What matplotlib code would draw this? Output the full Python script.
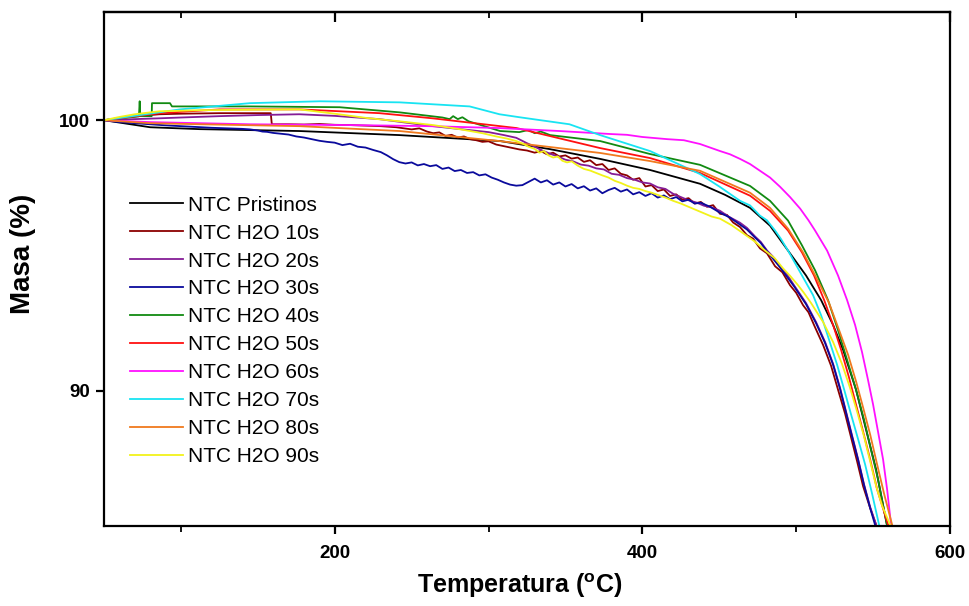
import numpy as np
import matplotlib
matplotlib.use('Agg')
import matplotlib.pyplot as plt
from matplotlib.ticker import MultipleLocator

plt.rcParams['font.family'] = ['Liberation Sans', 'DejaVu Sans']
plt.rcParams['mathtext.fontset'] = 'custom'
plt.rcParams['mathtext.rm'] = 'Liberation Sans'
plt.rcParams['mathtext.bf'] = 'Liberation Sans:bold'

# TGA curves: temperature (C) and remaining mass (%)
t_pristinos = [50, 80, 112, 177, 242, 307.5, 340, 372.5, 405, 437.5, 453.8, 470, 483, 494.7, 506.4, 516.2, 524, 530.5,
               538.9, 545.4, 551.9, 559, 560]
m_pristinos = [100.0, 99.74, 99.67, 99.60, 99.45, 99.23, 98.93, 98.57, 98.16, 97.65, 97.24, 96.76, 96.10, 95.18, 94.26,
               93.35, 92.43, 91.51, 90.04, 88.57, 87.10, 85.04, 84.7]

t_10s = [50, 60, 70, 80, 86, 100, 112, 125, 140, 158.4, 159.1, 170, 180, 190, 200, 210, 220, 230, 240, 250, 255, 260, 264,
         268, 272, 276, 280, 284, 288, 292, 296, 300, 305, 310, 315, 320, 325, 330, 334, 338, 342, 346, 350, 354, 358, 362,
         366, 370, 374, 378, 382, 386, 390, 394, 398, 402, 406, 410, 414, 418, 422, 426, 430, 434, 438, 442, 446, 450.5, 455,
         459, 463.5, 468, 472, 476.5, 481, 486.3, 491, 496, 500, 504.5, 508, 511.6, 517.5, 522.7, 527.2, 531.8, 535.7,
         539.6, 543.5, 548.1, 552, 553.5]
m_10s = [100.0, 100.08, 100.14, 100.19, 100.22, 100.24, 100.25, 100.26, 100.26, 100.26, 99.85, 99.85, 99.84, 99.86, 99.83,
         99.82, 99.80, 99.78, 99.74, 99.66, 99.70, 99.58, 99.52, 99.55, 99.42, 99.46, 99.36, 99.40, 99.30, 99.26, 99.20,
         99.22, 99.10, 99.04, 98.98, 98.92, 98.88, 98.80, 98.86, 98.74, 98.80, 98.66, 98.70, 98.58, 98.62, 98.46, 98.52,
         98.34, 98.38, 98.16, 98.22, 98.02, 97.96, 97.80, 97.86, 97.55, 97.60, 97.38, 97.44, 97.20, 97.26, 97.06, 97.12,
         96.92, 96.98, 96.80, 96.86, 96.54, 96.50, 96.22, 96.05, 95.75, 95.62, 95.26, 95.08, 94.60, 94.38, 93.90, 93.62,
         93.16, 92.90, 92.43, 91.69, 90.92, 90.04, 89.15, 88.27, 87.39, 86.47, 85.66, 85.04, 84.6]

t_20s = [50, 70, 86, 100, 125, 150, 177, 200, 229, 245, 264, 280, 300, 310, 318, 325, 330, 335, 340, 345, 350, 355, 360,
         365, 370, 375, 380, 385, 390, 395, 400, 405, 410, 415, 420, 425, 430, 435, 440, 445, 450.5, 456, 463.5, 468, 473.3,
         477, 481.1, 485, 489.5, 494, 498.6, 506.4, 512.9, 518.8, 524, 528.5, 532.4, 536.3, 540.3, 544.1, 548.1, 552, 553.5]
m_20s = [100.0, 100.04, 100.07, 100.10, 100.15, 100.19, 100.22, 100.16, 100.04, 99.92, 99.78, 99.68, 99.56, 99.45, 99.35,
         99.15, 99.02, 98.88, 98.76, 98.66, 98.54, 98.48, 98.36, 98.32, 98.22, 98.18, 98.02, 97.98, 97.86, 97.80, 97.70,
         97.66, 97.52, 97.46, 97.28, 97.16, 97.04, 96.96, 96.84, 96.78, 96.65, 96.44, 96.21, 96.02, 95.70, 95.50, 95.18,
         94.95, 94.60, 94.30, 93.90, 93.24, 92.54, 91.80, 90.99, 90.11, 89.23, 88.35, 87.46, 86.54, 85.70, 85.04, 84.6]

t_30s = [50, 60, 70, 80, 90, 100, 110, 120, 130, 140, 145, 150, 153, 156, 160, 165, 170, 175, 180, 185, 190, 195, 200, 205,
         210, 215, 220, 225, 230, 234, 238, 242, 246, 250, 254, 258, 262, 266, 270, 274, 278, 282, 286, 290, 294, 298, 302,
         306, 310, 314, 318, 322, 326, 330, 334, 338, 342, 346, 350, 354, 358, 362, 366, 370, 374, 378, 382, 386, 390, 394,
         398, 402, 406, 410, 414, 418, 422, 426, 430, 434, 438, 444, 450.5, 457, 463.5, 468, 473.3, 477, 481.1, 489.5,
         498.6, 506.4, 512.9, 518.8, 524, 528.5, 532.4, 536.3, 540.3, 544.1, 548.1, 551.3, 553]
m_30s = [100.0, 99.93, 99.89, 99.85, 99.81, 99.78, 99.75, 99.72, 99.70, 99.68, 99.66, 99.62, 99.58, 99.57, 99.53, 99.50,
         99.47, 99.40, 99.36, 99.30, 99.24, 99.20, 99.17, 99.08, 99.13, 99.02, 98.99, 98.90, 98.82, 98.70, 98.56, 98.45,
         98.40, 98.44, 98.33, 98.38, 98.30, 98.34, 98.20, 98.25, 98.12, 98.16, 98.05, 98.08, 97.96, 98.00, 97.88, 97.80,
         97.70, 97.62, 97.58, 97.60, 97.72, 97.84, 97.70, 97.78, 97.62, 97.70, 97.55, 97.64, 97.48, 97.56, 97.40, 97.48,
         97.30, 97.42, 97.50, 97.36, 97.44, 97.26, 97.34, 97.20, 97.30, 97.14, 97.22, 97.08, 97.16, 97.00, 97.06, 96.92,
         96.95, 96.80, 96.58, 96.40, 96.14, 95.96, 95.66, 95.46, 95.15, 94.56, 93.86, 93.20, 92.50, 91.76, 90.96, 90.07,
         89.19, 88.31, 87.43, 86.51, 85.66, 85.04, 84.6]

t_40s = [50, 60.4, 72.7, 73.2, 73.6, 79.9, 81.0, 81.2, 92.9, 94.2, 144.8, 203.2, 242.2, 270, 274.7, 277, 280, 283, 287,
         307.5, 320, 326, 330, 334, 340, 372.5, 405, 437.5, 470, 483, 494.7, 503.8, 512.3, 520.7, 527.2, 533.1, 538.9,
         544.1, 548.6, 553.2, 559.0, 560]
m_40s = [100.0, 100.07, 100.14, 100.70, 100.15, 100.15, 100.15, 100.63, 100.63, 100.51, 100.51, 100.48, 100.29, 100.10,
         100.04, 100.15, 100.04, 100.11, 99.96, 99.60, 99.56, 99.64, 99.52, 99.58, 99.45, 99.23, 98.75, 98.35, 97.57,
         97.02, 96.29, 95.37, 94.45, 93.35, 92.24, 91.14, 90.04, 88.93, 87.83, 86.73, 85.04, 84.6]

t_50s = [50, 86.4, 125.3, 177.3, 229.2, 263.6, 318.2, 372.5, 405, 437.5, 470, 483, 494.7, 503.8, 511.6, 518.2, 524.0,
         529.2, 534.4, 538.9, 543.5, 548.1, 552.6, 559.8, 561]
m_50s = [100.0, 100.26, 100.40, 100.40, 100.26, 100.07, 99.71, 98.97, 98.60, 98.05, 97.21, 96.65, 95.92, 95.11, 94.26,
         93.35, 92.43, 91.51, 90.48, 89.49, 88.49, 87.46, 86.36, 85.04, 84.6]

t_60s = [50, 79.9, 144.8, 209.7, 261.7, 307.1, 346.1, 379, 390, 400, 416.1, 427, 437.5, 450.5, 457, 463.5, 470, 476.5,
         483, 489.5, 496, 502.6, 508, 512.3, 520.1, 527.2, 533.1, 538.3, 542.8, 546.7, 550, 553.2, 556.5, 559.1, 561.7, 562.5]
m_60s = [100.0, 99.93, 99.85, 99.82, 99.78, 99.71, 99.60, 99.49, 99.46, 99.38, 99.30, 99.26, 99.12, 98.86, 98.74, 98.57,
         98.38, 98.13, 97.88, 97.54, 97.16, 96.73, 96.30, 95.92, 95.18, 94.26, 93.35, 92.43, 91.43, 90.40, 89.49, 88.49,
         87.46, 86.36, 85.04, 84.6]

t_70s = [50, 99.4, 144.8, 190.3, 242.2, 287.7, 307.1, 320.1, 352.6, 372.5, 405, 437.5, 450, 463.5, 470, 476.5, 481, 486.3,
         490, 494.7, 502.6, 511.0, 516.2, 521.4, 526.6, 531.2, 535.7, 540.3, 544.8, 549.4, 553.9, 555]
m_70s = [100.0, 100.40, 100.63, 100.70, 100.66, 100.51, 100.22, 100.11, 99.85, 99.45, 98.86, 98.01, 97.55, 97.02, 96.85,
         96.47, 96.30, 95.92, 95.62, 95.18, 94.38, 93.53, 92.79, 91.88, 90.96, 90.04, 89.12, 88.20, 87.28, 86.18, 85.04, 84.6]

t_80s = [50, 79.9, 112.3, 177.3, 242.2, 307.1, 372.5, 405, 437.5, 470, 483, 494.7, 504.5, 513, 521.4, 527.9, 533.8, 539,
         543.5, 548.1, 552.6, 557.2, 562.4, 563.5]
m_80s = [100.0, 99.89, 99.85, 99.78, 99.60, 99.23, 98.79, 98.49, 98.13, 97.32, 96.76, 95.99, 95.11, 94.19, 93.24, 92.24,
         91.32, 90.33, 89.38, 88.38, 87.28, 86.18, 85.04, 84.6]

t_90s = [50, 60, 70, 80, 86, 100, 112, 130, 150, 177, 200, 221, 242, 264, 280, 296, 305, 312, 318, 322, 326, 330, 333, 336,
         339, 342, 345, 348, 351, 354, 358, 362, 366, 370, 374, 378, 382, 386, 390, 394, 398, 402, 406, 410, 415, 420, 425,
         430, 435, 440, 445, 450.5, 458, 466.8, 473, 479.8, 486, 491.5, 496, 501.2, 505, 509.7, 517.5, 524, 529.8, 535,
         539.6, 544.1, 548.1, 552, 555.9, 561.1, 562.5]
m_90s = [100.0, 100.12, 100.22, 100.29, 100.33, 100.35, 100.37, 100.38, 100.39, 100.40, 100.24, 100.08, 99.96, 99.82,
         99.68, 99.52, 99.40, 99.32, 99.23, 99.14, 99.02, 98.94, 98.80, 98.86, 98.70, 98.62, 98.66, 98.50, 98.44, 98.48,
         98.32, 98.20, 98.14, 98.05, 97.96, 97.88, 97.76, 97.68, 97.58, 97.50, 97.46, 97.38, 97.32, 97.24, 97.14, 97.02,
         96.92, 96.80, 96.68, 96.56, 96.44, 96.36, 96.12, 95.77, 95.52, 95.18, 94.90, 94.52, 94.25, 93.90, 93.62, 93.24,
         92.54, 91.80, 90.99, 90.11, 89.23, 88.31, 87.39, 86.47, 85.74, 85.04, 84.6]

labels = ['NTC Pristinos', 'NTC H2O 10s', 'NTC H2O 20s', 'NTC H2O 30s', 'NTC H2O 40s',
          'NTC H2O 50s', 'NTC H2O 60s', 'NTC H2O 70s', 'NTC H2O 80s', 'NTC H2O 90s']
colors = ['#000000', '#8b0000', '#851c96', '#0a0a9c', '#118a11',
          '#ff1010', '#ff10ff', '#18e4f2', '#f07a1e', '#f2f21a']
series = [(t_pristinos, m_pristinos), (t_10s, m_10s), (t_20s, m_20s), (t_30s, m_30s), (t_40s, m_40s),
          (t_50s, m_50s), (t_60s, m_60s), (t_70s, m_70s), (t_80s, m_80s), (t_90s, m_90s)]

fig = plt.figure(figsize=(9.7, 6.06), dpi=100)
ax = fig.add_axes([104 / 970, 80 / 606, 846 / 970, 514 / 606])

for (t, m), c, lab in zip(series, colors, labels):
    ax.plot(t, m, color=c, lw=1.3, label=lab)

ax.set_xlim(50, 600)
ax.set_ylim(85, 104)
ax.xaxis.set_major_locator(MultipleLocator(200))
ax.xaxis.set_minor_locator(MultipleLocator(100))
ax.yaxis.set_major_locator(MultipleLocator(10))

for s in ax.spines.values():
    s.set_linewidth(1.6)

ax.tick_params(axis='x', which='major', direction='out', length=6, width=1.6, labelsize=13.5, pad=8)
ax.tick_params(axis='x', which='minor', direction='out', length=4, width=1.3)
ax.tick_params(axis='y', which='major', direction='out', length=6, width=1.6, labelsize=13.5, pad=4)
for lbl in ax.get_xticklabels() + ax.get_yticklabels():
    lbl.set_fontweight('bold')

# mirrored ticks on the top edge, pointing inwards
top = ax.secondary_xaxis('top')
top.xaxis.set_major_locator(MultipleLocator(200))
top.xaxis.set_minor_locator(MultipleLocator(100))
top.tick_params(which='major', direction='in', length=7, width=1.6, labeltop=False)
top.tick_params(which='minor', direction='in', length=4, width=1.3)
top.spines['top'].set_linewidth(1.6)

ax.set_xlabel(r'Temperatura ($^{\mathbf{o}}$C)', fontsize=18, fontweight='bold')
ax.xaxis.set_label_coords(0.492, -0.088)
ax.set_ylabel('Masa (%)', fontsize=20, fontweight='bold')
ax.yaxis.set_label_coords(-0.08, 0.53)

ax.legend(loc='upper left', bbox_to_anchor=(0.021, 0.659), frameon=False, fontsize=15,
          handlelength=2.55, handletextpad=0.25, labelspacing=0.43, borderaxespad=0)

fig.savefig('out.png', dpi=100)
plt.close()
